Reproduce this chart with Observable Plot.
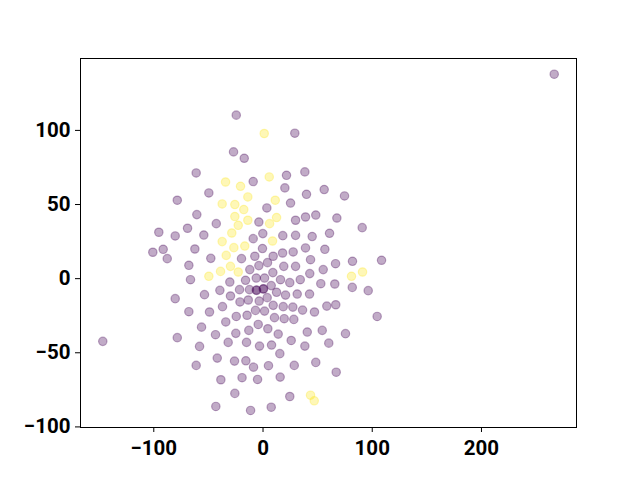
<!DOCTYPE html>
<html>
<head>
<meta charset="utf-8">
<script src="https://cdn.jsdelivr.net/npm/d3@7"></script>
<script src="https://cdn.jsdelivr.net/npm/@observablehq/plot@0.6"></script>
<style>
  html, body { margin: 0; padding: 0; background: #fff; }
  svg text { font-family: Roboto, "DejaVu Sans", sans-serif; font-weight: bold; }
</style>
</head>
<body>
<div id="chart"></div>
<script>
// Purple cluster (viridis low end)
const purpleX = [-24.5,-27.0,-17.2,-61.2,-49.6,-78.5,29.1,21.5,38.3,-9.0,20.0,39.8,56.0,74.6,25.2,3.5,
  -60.6,-42.8,-95.4,-80.4,-69.1,-54.2,-100.9,-91.4,-87.7,-62.4,-47.8,-19.7,-67.9,-66.4,-30.4,-39.5,-21.5,
  -53.6,-29.8,-80.4,-21.1,-37.1,-67.9,-49.0,-24.5,-34.1,-3.8,29.8,38.9,48.3,67.6,90.8,-9.0,-0.2,18.1,29.8,
  45.0,60.9,-7.5,-0.5,9.3,17.9,27.6,38.9,56.6,-3.8,4.1,19.0,29.8,43.5,66.4,81.9,108.5,-12.1,9.0,42.8,55.1,
  -16.0,-6.2,1.4,7.5,16.0,24.5,34.1,52.9,65.7,-12.4,-6.2,0.2,-5.8,0.5,12.4,20.6,31.3,42.6,81.7,96.3,-13.5,-3.5,
  3.8,9.3,18.5,27.3,36.2,47.1,58.4,66.6,-14.6,-6.9,1.4,10.5,19.4,28.2,104.5,-146.7,-78.5,-56.3,-43.5,-24.9,
  -58.1,-31.9,-61.2,-41.9,-26.1,-38.6,-19.2,-25.8,-43.2,-4.4,-13.0,4.4,13.9,40.5,54.2,75.5,-15.1,-3.2,7.8,
  25.8,38.3,60.2,15.4,-15.7,-8.7,5.0,28.6,48.3,67.0,-5.0,15.7,24.5,-11.4,7.5,266.6];
const purpleY = [110.3,85.5,81.2,71.3,57.8,52.9,98.1,69.7,72.0,65.5,61.2,56.9,60.1,55.8,51.0,47.7,
  43.2,37.1,31.3,28.8,34.0,29.4,17.8,19.8,13.5,20.0,13.7,13.5,9.0,-0.7,-2.3,-7.9,-7.4,
  -10.8,-11.7,-13.5,-15.7,-18.9,-22.3,-22.5,-25.5,-29.2,38.2,39.4,41.6,42.9,40.9,34.4,27.0,30.4,29.0,29.2,
  28.4,30.6,15.1,20.3,15.1,17.3,18.0,20.7,19.8,8.8,10.8,8.3,8.3,12.8,10.1,11.7,12.4,6.1,4.1,3.4,6.1,
  -1.1,0.4,0.4,-4.7,-0.7,-2.7,-0.7,-3.4,-3.6,-7.4,-7.7,-7.0,-7.9,-6.8,-9.2,-11.1,-10.4,-10.4,-5.9,-8.1,-14.4,-15.1,
  -12.8,-18.0,-18.9,-19.2,-21.2,-22.5,-18.5,-17.6,-24.7,-21.4,-21.9,-26.3,-27.0,-27.5,-25.5,-42.3,-39.8,-32.7,-37.8,-36.9,
  -45.7,-43.0,-58.5,-53.6,-55.6,-68.2,-66.8,-77.4,-86.2,-30.9,-34.9,-33.8,-37.4,-36.0,-34.9,-37.1,-43.0,-45.5,-44.8,
  -41.7,-45.5,-43.5,-50.6,-55.4,-59.7,-58.7,-58.5,-56.5,-63.1,-68.0,-66.4,-79.5,-88.9,-86.7,137.9];

// Yellow cluster (viridis high end)
const yellowX = [-34.3,-20.6,-37.4,-25.8,1.1,5.7,-13.9,11.2,-17.6,-25.8,-22.7,-28.6,-37.4,-26.7,
  -33.7,-29.8,-38.9,-49.6,-22.7,-13.9,6.0,12.4,-16.7,8.7,91.1,81.0,43.5,46.9];
const yellowY = [65.2,62.3,50.4,50.0,97.9,68.6,55.1,52.9,46.6,41.9,36.0,30.8,25.0,20.9,
  15.7,8.3,4.9,1.6,4.5,39.4,37.1,41.2,22.0,25.4,4.5,1.6,-78.6,-82.4];

const xTicks = [-100, 0, 100, 200];
const yTicks = [-100, -50, 0, 50, 100];

const purple = purpleX.map((x, i) => ({x, y: purpleY[i]}));
const yellow = yellowX.map((x, i) => ({x, y: yellowY[i]}));

const fmt = d => d < 0 ? "\u2212" + Math.abs(d) : String(d);

const chart = Plot.plot({
  width: 640,
  height: 480,
  marginLeft: 80,
  marginRight: 64,
  marginTop: 58,
  marginBottom: 53,
  style: {fontSize: "20px", fontFamily: "Roboto", fontWeight: "bold", color: "#000", background: "#fff"},
  x: {domain: [-167.1, 287], ticks: xTicks, tickFormat: fmt, label: null},
  y: {domain: [-100.4, 148.5], ticks: yTicks, tickFormat: fmt, label: null},
  marks: [
    Plot.dot(purple, {x: "x", y: "y", r: 4.2, fill: "#440154", stroke: "#440154",
      fillOpacity: 0.33, strokeOpacity: 0.33, strokeWidth: 1.2}),
    Plot.dot(yellow, {x: "x", y: "y", r: 4.2, fill: "#fde725", stroke: "#fde725",
      fillOpacity: 0.33, strokeOpacity: 0.33, strokeWidth: 1.2}),
    Plot.frame({stroke: "#000", strokeWidth: 1}),
    Plot.axisX({ticks: xTicks, tickFormat: fmt, tickSize: 5, tickPadding: 8, label: null,
      fontSize: 20.5, fontWeight: "bold", stroke: "#000"}),
    Plot.axisY({ticks: yTicks, tickFormat: fmt, tickSize: 5, tickPadding: 5, label: null,
      fontSize: 20.5, fontWeight: "bold", stroke: "#000"})
  ]
});
document.getElementById("chart").appendChild(chart);
</script>
</body>
</html>
